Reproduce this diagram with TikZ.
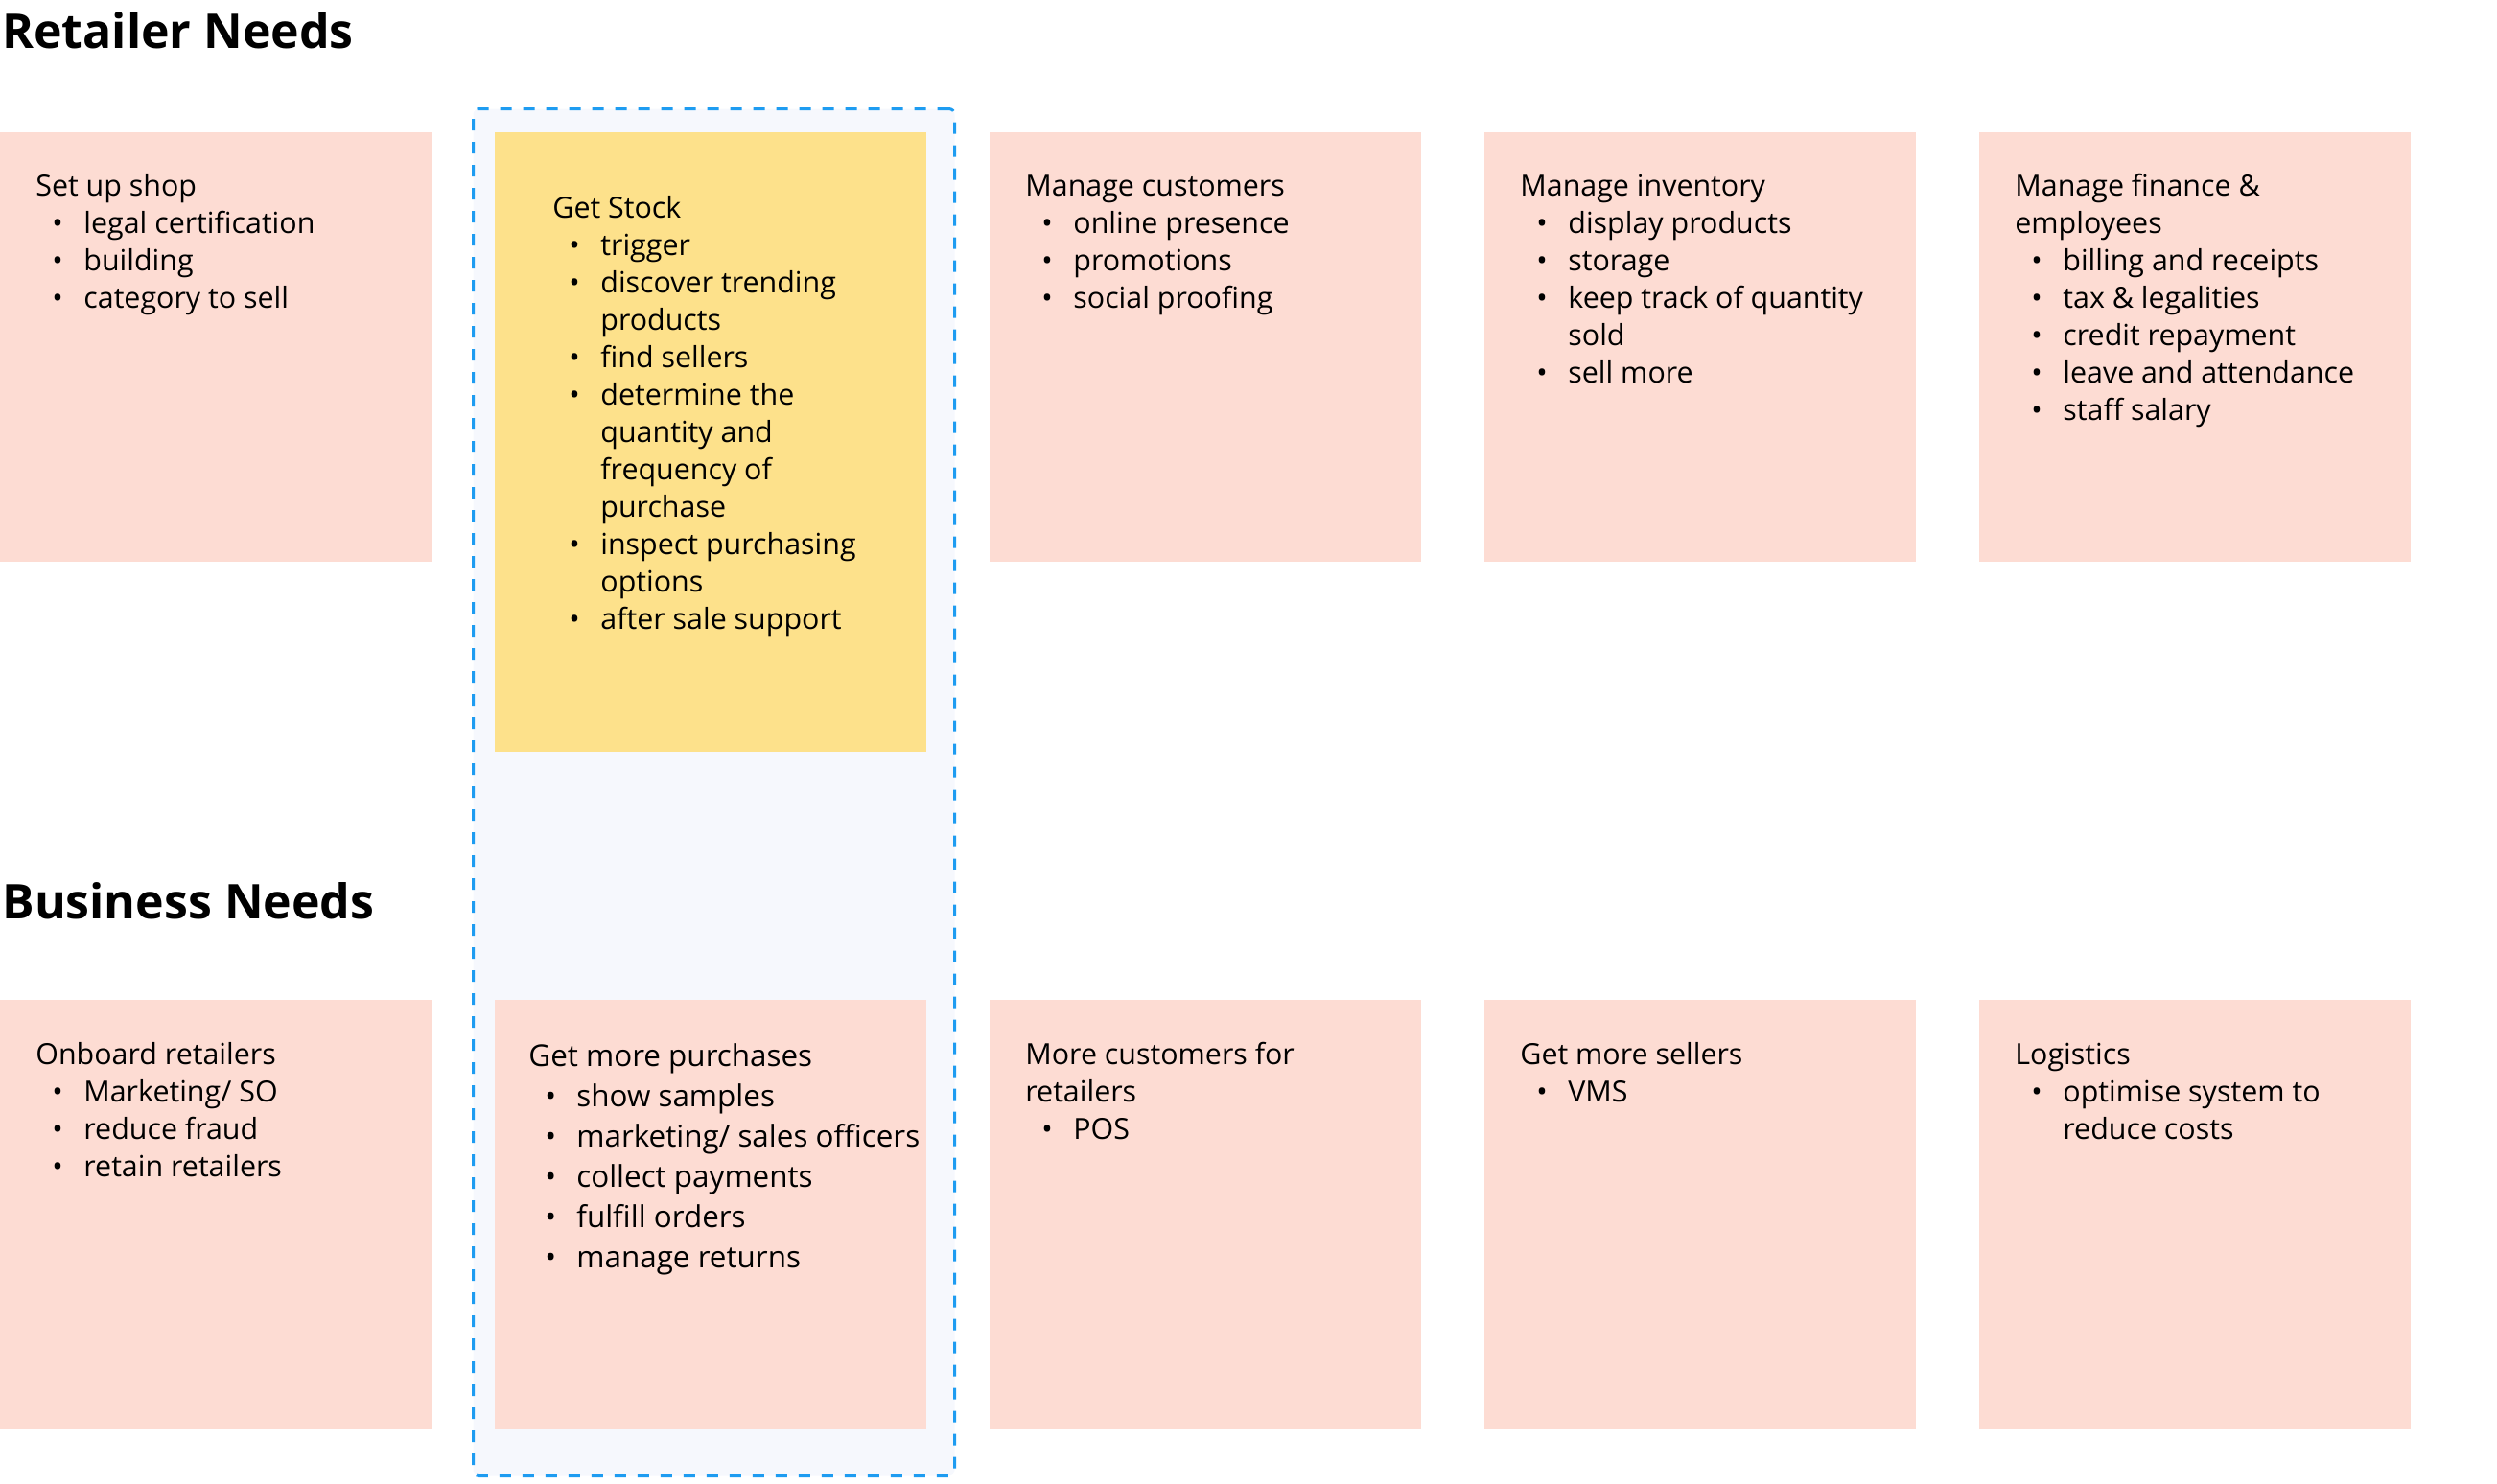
\documentclass[tikz,border=0pt]{standalone}
\usepackage{fontspec}
\setmainfont{Open Sans}
\usetikzlibrary{positioning}
\definecolor{notepink}{HTML}{FDDCD3}
\definecolor{noteyellow}{HTML}{FDE18B}
\definecolor{focusfill}{HTML}{F6F8FD}
\definecolor{focusline}{HTML}{1E9CF1}
% one bullet line, and a wrapped continuation of it
\newcommand{\itm}[1]{\\\makebox[25pt][l]{\hspace{8.5pt}\textbullet}#1}
\newcommand{\cnt}[1]{\\\hspace*{25pt}#1}

\begin{document}
\begin{tikzpicture}[
  node distance=33pt,
  note/.style={fill=notepink,inner sep=0pt,outer sep=0pt,anchor=north west,
               minimum width=225pt,minimum height=224pt},
  stocknote/.style={note,fill=noteyellow,minimum height=323pt},
  focusbox/.style={draw=focusline,fill=focusfill,line width=1.5pt,
                   dash pattern=on 6pt off 6pt,rounded corners=3pt,
                   inner sep=0pt,anchor=north west},
  notetext/.style={inner sep=0pt,align=left,
                   font=\fontsize{15.2}{19.5}\selectfont},
  heading/.style={inner sep=0pt,anchor=base west,
                  font=\fontsize{25}{30}\selectfont\bfseries}
]
\useasboundingbox (0,0) rectangle (1302pt,-774pt);

% highlighted column
\node[focusbox,minimum width=251pt,minimum height=713pt] (focus) at (246pt,-56pt) {};

% retailer needs
\node[heading] (retailer) at (1pt,-25.3pt) {Retailer Needs};
\node[note] (setup) at (0,-69pt) {};
\node[stocknote,below right=0pt and 33pt of setup.north east] (stock) {};
\node[note,below right=0pt and 33pt of stock.north east]  (customers) {};
\node[note,right=of customers] (inventory) {};
\node[note,right=of inventory] (finance)   {};

\node[notetext,below right=19.35pt and 18.5pt of setup.north west] (setupT)
  {\strut Set up shop\itm{legal certification}\itm{building}\itm{category to sell}};
\node[notetext,below right=30.85pt and 30pt of stock.north west] (stockT)
  {\strut Get Stock\itm{trigger}\itm{discover trending}\cnt{products}\itm{find sellers}%
   \itm{determine the}\cnt{quantity and}\cnt{frequency of}\cnt{purchase}%
   \itm{inspect purchasing}\cnt{options}\itm{after sale support}};
\node[notetext,below right=19.35pt and 18.5pt of customers.north west] (customersT)
  {\strut Manage customers\itm{online presence}\itm{promotions}\itm{social proofing}};
\node[notetext,below right=19.35pt and 18.5pt of inventory.north west] (inventoryT)
  {\strut Manage inventory\itm{display products}\itm{storage}%
   \itm{keep track of quantity}\cnt{sold}\itm{sell more}};
\node[notetext,below right=19.35pt and 18.5pt of finance.north west] (financeT)
  {\strut Manage finance \&\\employees\itm{billing and receipts}\itm{tax \& legalities}%
   \itm{credit repayment}\itm{leave and attendance}\itm{staff salary}};

% business needs
\node[heading] (business) at (1pt,-479pt) {Business Needs};
\node[note,below=228.5pt of setup] (onboard) {};
\node[note,right=of onboard]   (purchases) {};
\node[note,right=of purchases] (morecust)  {};
\node[note,right=of morecust]  (sellers)   {};
\node[note,right=of sellers]   (logistics) {};

\node[notetext,below right=19.8pt and 18.5pt of onboard.north west] (onboardT)
  {\strut Onboard retailers\itm{Marketing/ SO}\itm{reduce fraud}\itm{retain retailers}};
\node[notetext,font=\fontsize{15.7}{21}\selectfont,
      below right=20pt and 17.5pt of purchases.north west] (purchasesT)
  {\strut Get more purchases\itm{show samples}\itm{marketing/ sales officers}%
   \itm{collect payments}\itm{fulfill orders}\itm{manage returns}};
\node[notetext,below right=19.8pt and 18.5pt of morecust.north west] (morecustT)
  {\strut More customers for\\retailers\itm{POS}};
\node[notetext,below right=19.8pt and 18.5pt of sellers.north west] (sellersT)
  {\strut Get more sellers\itm{VMS}};
\node[notetext,below right=19.8pt and 18.5pt of logistics.north west] (logisticsT)
  {\strut Logistics\itm{optimise system to}\cnt{reduce costs}};
\end{tikzpicture}
\end{document}
